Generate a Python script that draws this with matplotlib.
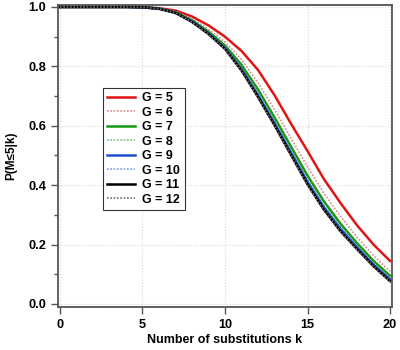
import matplotlib
matplotlib.use("Agg")
import matplotlib.pyplot as plt
from matplotlib.ticker import MultipleLocator

plt.rcParams['font.family'] = ['Liberation Sans', 'DejaVu Sans']
plt.rcParams['font.weight'] = 'bold'

# number of substitutions
k = list(range(21))

# P(M<=5|k) for each G
g5 = [1, 1, 1, 1, 1, 0.999, 0.996, 0.988, 0.968, 0.938, 0.900, 0.852, 0.788, 0.703, 0.607, 0.515, 0.420, 0.340, 0.265, 0.200, 0.145]
g6 = [1, 1, 1, 1, 1, 0.999, 0.995, 0.984, 0.960, 0.925, 0.882, 0.823, 0.745, 0.655, 0.558, 0.462, 0.372, 0.295, 0.225, 0.163, 0.110]
g7 = [1, 1, 1, 1, 1, 0.999, 0.995, 0.982, 0.955, 0.917, 0.870, 0.805, 0.722, 0.628, 0.530, 0.432, 0.345, 0.270, 0.205, 0.145, 0.095]
g8 = [1, 1, 1, 1, 1, 0.999, 0.994, 0.981, 0.953, 0.913, 0.865, 0.796, 0.710, 0.616, 0.517, 0.418, 0.332, 0.259, 0.196, 0.137, 0.088]
g9 = [1, 1, 1, 1, 1, 0.999, 0.994, 0.981, 0.952, 0.911, 0.862, 0.791, 0.703, 0.609, 0.510, 0.411, 0.325, 0.253, 0.191, 0.132, 0.083]
g10 = [1, 1, 1, 1, 1, 0.999, 0.994, 0.980, 0.951, 0.910, 0.860, 0.788, 0.699, 0.605, 0.505, 0.406, 0.320, 0.248, 0.187, 0.129, 0.080]
g11 = [1, 1, 1, 1, 1, 0.999, 0.994, 0.980, 0.950, 0.909, 0.859, 0.786, 0.697, 0.602, 0.502, 0.403, 0.317, 0.245, 0.185, 0.127, 0.077]
g12 = [1, 1, 1, 1, 1, 0.999, 0.994, 0.980, 0.950, 0.908, 0.858, 0.785, 0.695, 0.600, 0.500, 0.400, 0.315, 0.243, 0.183, 0.125, 0.075]

labels = ['G = 5', 'G = 6', 'G = 7', 'G = 8', 'G = 9', 'G = 10', 'G = 11', 'G = 12']

fig = plt.figure(figsize=(4, 3.5), dpi=100)
ax = fig.add_axes([0.145, 0.123, 0.835, 0.863])

# solid lines for odd G, dotted lighter lines for even G
styles = [
    (g5, '#e01515', '-', 1.8),
    (g6, '#e08888', (0, (1, 1)), 1.2),
    (g7, '#169a16', '-', 1.8),
    (g8, '#7cc47c', (0, (1, 1)), 1.2),
    (g9, '#1f4fd0', '-', 1.8),
    (g10, '#7c9ee0', (0, (1, 1)), 1.2),
    (g11, '#000000', '-', 1.8),
    (g12, '#707070', (0, (1, 1)), 1.2),
]
for (vals, col, ls, lw), lab in zip(styles, labels):
    ax.plot(k, vals, color=col, linestyle=ls, linewidth=lw, label=lab)

ax.set_xlim(-0.12, 20.12)
ax.set_ylim(-0.01, 1.007)
ax.xaxis.set_major_locator(MultipleLocator(5))
ax.yaxis.set_major_locator(MultipleLocator(0.2))
ax.yaxis.set_minor_locator(MultipleLocator(0.1))
ax.yaxis.set_major_formatter(matplotlib.ticker.FormatStrFormatter('%.1f'))

ax.grid(True, which='major', color='#d8d8d8', linestyle=':', linewidth=0.8)
for s in ax.spines.values():
    s.set_color('#555555')
    s.set_linewidth(1.3)

ax.tick_params(which='major', direction='out', length=5, width=1, color='#555555', labelsize=9.2)
ax.tick_params(which='minor', direction='out', length=3, width=1, color='#555555')

ax.set_xlabel('Number of substitutions k', fontsize=9, fontweight='bold', labelpad=2)
ax.set_ylabel('P(M≤5|k)', fontsize=8.5, fontweight='bold', labelpad=8)

leg = ax.legend(loc='upper left', bbox_to_anchor=(0.135, 0.725), fontsize=9,
                frameon=True, fancybox=False, handlelength=2.2, handletextpad=0.6,
                labelspacing=0.2, borderpad=0.35, borderaxespad=0)
leg.get_frame().set_edgecolor('black')
leg.get_frame().set_linewidth(0.8)

fig.savefig('out.png', dpi=100)
